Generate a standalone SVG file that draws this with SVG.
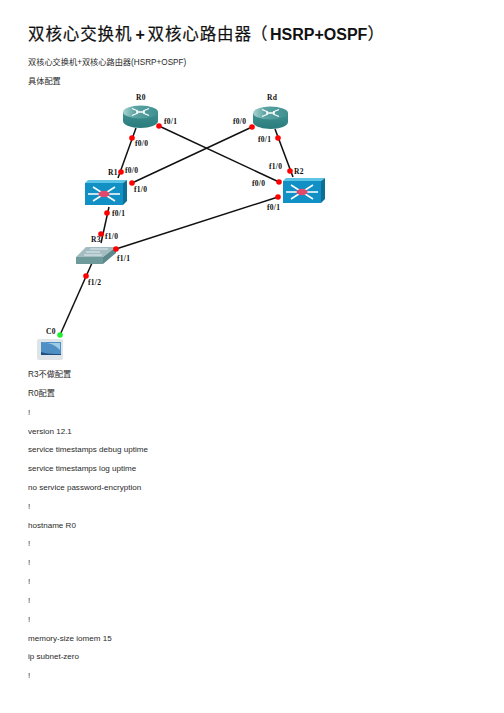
<svg xmlns="http://www.w3.org/2000/svg" width="504" height="713" viewBox="0 0 504 713">
<defs>
<linearGradient id="rt" x1="0" y1="0" x2="1" y2="0"><stop offset="0" stop-color="#a8d4d0"/><stop offset="0.35" stop-color="#5aa3a3"/><stop offset="1" stop-color="#3f9090"/></linearGradient>
<linearGradient id="rb" x1="0" y1="0" x2="0" y2="1"><stop offset="0" stop-color="#3f9292"/><stop offset="1" stop-color="#2a7b7b"/></linearGradient>
<g id="routerIcon">
<path d="M0 7 V16 C0 20 8 23 17.500 23 C27 23 35 20 35 16 V7 Z" fill="url(#rb)"/>
<ellipse cx="17.500" cy="7" rx="17.500" ry="6.500" fill="url(#rt)"/>
<path d="M9 3.500 L15 6 M26 3.500 L20 6 M9 10.500 L15 8 M26 10.500 L20 8 M13 7 H22" stroke="#ffffff" stroke-width="1.300" fill="none"/>
</g>
<g id="l3Icon">
<path d="M0 3 H38 L42 0 H3 Z" fill="#5ec4e6"/>
<path d="M38 3 L42 0 V21 L38 25 Z" fill="#0d6f96"/>
<rect x="0" y="3" width="38" height="22" fill="#1190c6"/>
<path d="M19 14 L3 14 M19 14 L35 14 M19 14 L8 7 M19 14 L30 7 M19 14 L8 21 M19 14 L30 21" stroke="#ffffff" stroke-width="1.500"/>
<ellipse cx="19" cy="14" rx="5.500" ry="3.200" fill="#e0486c"/>
</g>
</defs>
<style>
.h{font-family:"Liberation Sans","Noto Sans CJK SC",sans-serif;font-size:16.500px;fill:#111}
.hc{letter-spacing:.9px;stroke:#111;stroke-width:.2px}
.hb{font-size:16px;font-weight:bold}
.s{font-family:"Liberation Sans","Noto Sans CJK SC",sans-serif;font-size:8.200px;fill:#2a2a2a}
.t{font-family:"Liberation Sans","Noto Sans CJK SC",sans-serif;font-size:8.050px;fill:#2a2a2a}
.l{font-family:"Liberation Serif","DejaVu Serif",serif;font-size:7.500px;font-weight:bold;fill:#111;letter-spacing:.3px}
.c{stroke:#111;stroke-width:1.500;fill:none}
.r{fill:#ff0000}
.g{fill:#22ee33}
</style>
<rect width="504" height="713" fill="#ffffff"/>
<text class="h" y="40"><tspan class="hc" x="28">双核心交换机</tspan><tspan class="hb" x="135.500">+</tspan><tspan class="hc" x="147.500">双核心路由器</tspan><tspan class="hc" x="251">（</tspan><tspan class="hb" x="270">HSRP+OSPF</tspan><tspan class="hc" x="367.500">）</tspan></text>
<text class="s" x="28" y="65">双核心交换机+双核心路由器(HSRP+OSPF)</text>
<text class="s" x="28" y="84">具体配置</text>

<g id="connectors">
<path class="c" d="M136 128 L118 178"/>
<path class="c" d="M159 126 L279 182"/>
<path class="c" d="M252 127 L132 183"/>
<path class="c" d="M275 129 L293 177"/>
<path class="c" d="M109 207 L101 243"/>
<path class="c" d="M278 197 L116 249"/>
<path class="c" d="M92 263 L60 335"/>
</g>

<g id="R0"><use href="#routerIcon" x="123" y="105"/><text class="l" x="136" y="100">R0</text></g>
<g id="Rd"><use href="#routerIcon" x="253" y="106"/><text class="l" x="267" y="100">Rd</text></g>
<g id="R1"><use href="#l3Icon" x="85" y="180"/><text class="l" x="108" y="175">R1</text></g>
<g id="R2"><use href="#l3Icon" x="283" y="178"/><text class="l" x="294" y="174">R2</text></g>
<g id="R3">
<path d="M76 257 L86 247 H116 L103 257 Z" fill="#a3bcc0"/>
<path d="M76 257 H103 V264 H76 Z" fill="#6f9a9c"/>
<path d="M103 257 L116 247 V253 L103 264 Z" fill="#5c8a8c"/>
<path d="M86 252 H100 M90 249 H108 M84 255 H102" stroke="#e6ecf5" stroke-width="1.200"/>
<text class="l" x="91" y="242">R3</text>
</g>
<g id="C0">
<rect x="37" y="339" width="26" height="21" rx="2" fill="#dfe4e8"/>
<rect x="41" y="342" width="20" height="13" fill="#4f8fc4"/>
<path d="M42 343 C48 342 54 344 60 350 V343 H42 Z" fill="#9ccbe6"/>
<path d="M41 352 C47 354 53 354 61 354 V355 H41 Z" fill="#1d4f80"/>
<text class="l" x="46" y="334">C0</text>
</g>

<g id="ports">
<circle class="r" cx="132" cy="138" r="2.800"/><text class="l" x="135" y="146">f0/0</text>
<circle class="r" cx="159" cy="126" r="2.800"/><text class="l" x="164" y="124">f0/1</text>
<circle class="r" cx="121" cy="172" r="2.800"/><text class="l" x="125" y="173">f0/0</text>
<circle class="r" cx="132" cy="183" r="2.800"/><text class="l" x="134" y="192">f1/0</text>
<circle class="r" cx="252" cy="127" r="2.800"/><text class="l" x="233" y="124">f0/0</text>
<circle class="r" cx="278" cy="138" r="2.800"/><text class="l" x="258" y="142">f0/1</text>
<circle class="r" cx="290" cy="171" r="2.800"/><text class="l" x="269" y="169">f1/0</text>
<circle class="r" cx="279" cy="182" r="2.800"/><text class="l" x="252" y="186">f0/0</text>
<circle class="r" cx="278" cy="197" r="2.800"/><text class="l" x="267" y="210">f0/1</text>
<circle class="r" cx="107" cy="213" r="2.800"/><text class="l" x="112" y="216">f0/1</text>
<circle class="r" cx="101" cy="234" r="2.800"/><text class="l" x="105" y="239">f1/0</text>
<circle class="r" cx="116" cy="249" r="2.800"/><text class="l" x="117" y="261">f1/1</text>
<circle class="r" cx="86" cy="276" r="2.800"/><text class="l" x="88" y="285">f1/2</text>
<circle class="g" cx="60" cy="335" r="2.800"/>
</g>

<text class="s" x="28" y="377">R3不做配置</text>
<text class="s" x="28" y="396">R0配置</text>
<text class="t" x="28" y="414.700">!</text>
<text class="t" x="28" y="433.600">version 12.1</text>
<text class="t" x="28" y="452.400">service timestamps debug uptime</text>
<text class="t" x="28" y="471.300">service timestamps log uptime</text>
<text class="t" x="28" y="490.100">no service password-encryption</text>
<text class="t" x="28" y="509">!</text>
<text class="t" x="28" y="527.500">hostname R0</text>
<text class="t" x="28" y="546">!</text>
<text class="t" x="28" y="565">!</text>
<text class="t" x="28" y="584">!</text>
<text class="t" x="28" y="603">!</text>
<text class="t" x="28" y="621.500">!</text>
<text class="t" x="28" y="640.500">memory-size iomem 15</text>
<text class="t" x="28" y="659">ip subnet-zero</text>
<text class="t" x="28" y="678">!</text>
</svg>
